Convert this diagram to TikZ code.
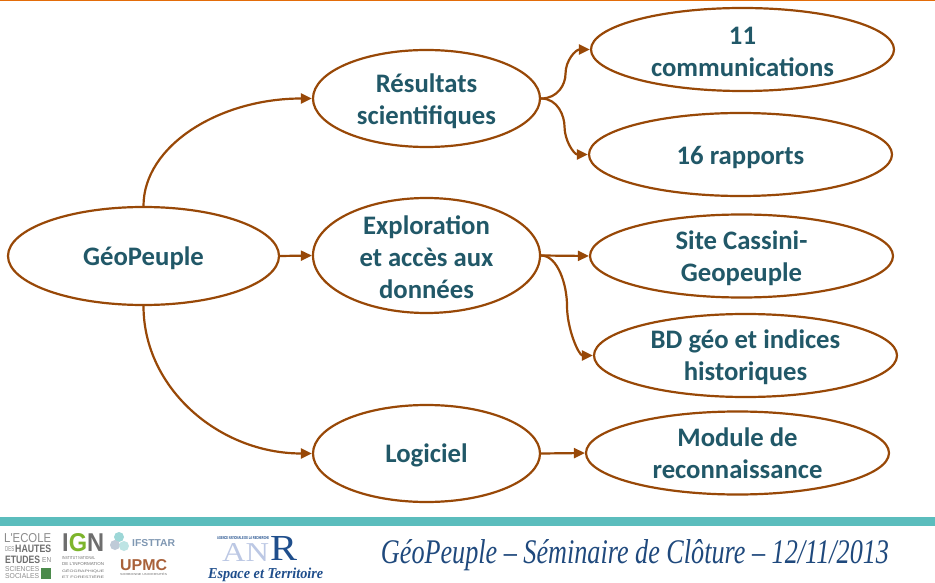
\documentclass[tikz,border=0pt]{standalone}
\usepackage{fontspec}
\usepackage{graphicx}
\setmainfont{Carlito}
\newfontfamily\footfont{Liberation Serif}
\newfontfamily\logofont{Liberation Sans}
\usetikzlibrary{shapes.geometric,arrows.meta,calc}
\definecolor{brownline}{HTML}{984807}
\definecolor{tealtext}{HTML}{215868}
\definecolor{tealbar}{HTML}{5BBDBD}
\definecolor{orangetop}{HTML}{E36C09}
\definecolor{footblue}{HTML}{1F497D}
\definecolor{logogrey}{HTML}{8C8C8C}
\definecolor{logodark}{HTML}{6E6E6E}
\definecolor{igngreen}{HTML}{7DB52C}
\definecolor{upmcbrown}{HTML}{A9613A}
\definecolor{ifblue}{HTML}{7F97B2}
\definecolor{anrlight}{HTML}{BCC8E4}
\definecolor{anrdark}{HTML}{1F4E8C}
\newcommand{\lowerstrut}{\rule{0pt}{23.5pt}}
\newcommand{\lowstrut}{\rule{0pt}{21.5pt}}
\tikzset{
  oval/.style={ellipse,draw=brownline,line width=2.2pt,fill=white,inner xsep=0pt,inner ysep=-9pt,
    text=tealtext,font=\fontsize{26.7}{32}\selectfont\bfseries,align=center},
  big/.style={oval,minimum width=227pt,minimum height=97pt},
  leaf/.style={oval,minimum width=303pt,minimum height=83pt},
  link/.style={draw=brownline,line width=2.2pt,-{Triangle[length=11pt,width=10pt]}},
  logo/.style={inner sep=0pt,anchor=west}
}
\newcommand{\fitbox}[3]{\resizebox{#1pt}{#2pt}{#3}}
\begin{document}
\begin{tikzpicture}[x=1pt,y=-1pt]
\useasboundingbox (0,0) rectangle (935,583);
\fill[white] (0,0) rectangle (935,583);
\fill[orangetop] (0,0) rectangle (935,1.2);
\fill[tealbar] (0,517) rectangle (935,526);
% main nodes
\node[oval,minimum width=271pt,minimum height=98pt] (geo) at (143.5,256) {\lowerstrut GéoPeuple};
\node[big] (res) at (426.5,98.5) {\lowerstrut Résultats\\scientifiques};
\node[big,minimum height=115pt] (exp) at (426.5,255.5) {\lowstrut Exploration\\et accès aux\\données};
\node[big] (log) at (426.5,453.5) {\lowerstrut Logiciel};
\node[leaf] (c11) at (742.5,49.5) {\lowstrut 11\\communications};
\node[leaf] (rap) at (740.5,154.5) {\lowerstrut 16 rapports};
\node[leaf] (sit) at (741.5,256) {\lowerstrut Site Cassini-\\Geopeuple};
\node[leaf] (bdg) at (745.5,355.5) {\lowstrut BD géo et indices\\historiques};
\node[leaf] (mod) at (737.5,453) {Module de\\reconnaissance};
% connectors
\draw[link] (geo.north) .. controls +(0,-60) and +(-93,0) .. (res.west);
\draw[link] (geo.east) -- (exp.west);
\draw[link] (geo.south) .. controls +(0,82) and +(-93,0) .. (log.west);
\coordinate (m1) at ($(res.east)!.5!(c11.west)$);
\coordinate (m2) at ($(res.east)!.5!(rap.west)$);
\coordinate (m3) at ($(exp.east)!.5!(bdg.west)$);
\draw[link] (res.east) .. controls +(17,0) and +(0,10) .. (m1) .. controls +(0,-14) and +(-14,0) .. (c11.west);
\draw[link] (res.east) .. controls +(17,0) and +(0,-10) .. (m2) .. controls +(0,14) and +(-14,0) .. (rap.west);
\draw[link] (exp.east) -- (sit.west);
\draw[link] (exp.east) .. controls +(17,0) and +(0,-20) .. (m3) .. controls +(0,24) and +(-14,0) .. (bdg.west);
\draw[link] (log.east) -- (mod.west);
% footer title
\node[inner sep=0pt,text=footblue] (title) at (635,555) {\fitbox{508}{24}{\footfont\itshape GéoPeuple – Séminaire de Clôture – 12/11/2013}};
% EHESS logo
\node[logo,text=logogrey] (ec1) at (4,538.5) {\logofont\fitbox{47}{9}{L'ECOLE}};
\node[logo,text=logogrey] (ec2) at (5,549) {\logofont\fitbox{9}{5}{DES}};
\node[logo,text=logodark] (ec3) at (15,549) {\logofont\bfseries\fitbox{36}{7.5}{HAUTES}};
\node[logo,text=logodark] (ec4) at (5,560) {\logofont\bfseries\fitbox{35}{7.5}{ETUDES}};
\node[logo,text=logogrey] (ec5) at (42,560) {\logofont\fitbox{9}{5}{EN}};
\node[logo,text=logogrey] (ec6) at (5,569.5) {\logofont\fitbox{34}{5}{SCIENCES}};
\node[logo,text=logogrey] (ec7) at (5,576) {\logofont\fitbox{34}{5}{SOCIALES}};
\fill[green!35!black!70] (41,568) rectangle (51,579);
% IGN logo
\node[logo,text=logodark] (ign) at (62,543) {\logofont\bfseries\fitbox{42}{18}{I\textcolor{igngreen}{G}N}};
\node[logo,text=logodark] (ig1) at (62,558) {\logofont\fitbox{33}{3}{INSTITUT NATIONAL}};
\node[logo,text=logodark] (ig2) at (62,564.5) {\logofont\fitbox{42}{3}{DE L'INFORMATION}};
\node[logo,text=logodark] (ig3) at (62,571) {\logofont\fitbox{42}{3}{GÉOGRAPHIQUE}};
\node[logo,text=logodark] (ig4) at (62,577.5) {\logofont\fitbox{42}{3}{ET FORESTIÈRE}};
% IFSTTAR logo
\fill[tealbar!60] (119,537) circle (5);
\fill[ifblue!50] (115,545) circle (5);
\fill[tealbar!40] (124,546) circle (5);
\node[logo,text=ifblue] (ifs) at (132,543) {\logofont\bfseries\fitbox{43}{7}{IFSTTAR}};
% UPMC logo
\node[logo,text=upmcbrown] (upm) at (120,565.5) {\logofont\bfseries\fitbox{47}{11}{UPMC}};
\node[logo,text=logodark] (sor) at (120,574.5) {\logofont\fitbox{47}{2.5}{SORBONNE UNIVERSITÉS}};
% ANR logo
\node[logo,text=anrlight] (anr) at (222,552.5) {\footfont\fitbox{47}{18}{AN}};
\node[logo,text=anrdark] (anR) at (270,548.5) {\footfont\fitbox{27}{24}{R}};
\node[logo,text=anrdark] (anc) at (217,538) {\logofont\bfseries\fitbox{52}{3}{AGENCE NATIONALE DE LA RECHERCHE}};
\node[logo,text=anrdark] (esp) at (208,574.5) {\footfont\itshape\bfseries\fitbox{115}{10.5}{Espace et Territoire}};
\end{tikzpicture}
\end{document}
